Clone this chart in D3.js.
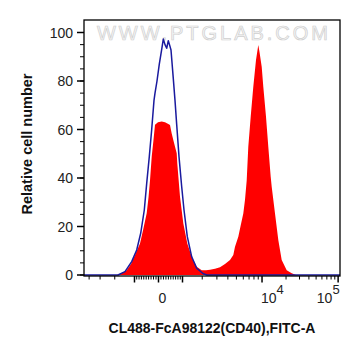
<!DOCTYPE html>
<html><head><meta charset="utf-8">
<script src="https://cdn.jsdelivr.net/npm/d3@7"></script>
<style>body{margin:0;background:#fff}svg{display:block}text{font-family:"Liberation Sans",Arial,sans-serif}</style>
</head><body>
<svg id="c" width="361" height="356"></svg>
<script>
// ---- data (x in display channels 0..256 across the biexponential axis) ----
const controlChannels = [0,34,41,47.7,52.7,56.7,60.3,62.7,65.3,67.7,70,71,73,75.3,77.7,79.3,81,82.7,84.3,85.5,87,89.3,91,92.7,95,97.7,100,103.3,107.7,112.7,119.3,123,256];
const controlCounts   = [0,0,1.4,5.5,10.3,17.2,26.8,37.8,48.8,60,72,75,80,87,93,97.3,95,93.5,96.6,95,92.8,81,72,62,48.8,36.4,26.8,15.8,7.5,2.8,0.5,0,0];
const stainedChannels = [0,32.7,38,42.7,47,51,56,59.3,62.7,64.5,66,67.7,69.3,71,74,77.7,81,84.3,86,87.7,89.3,92.7,93.3,96,99.3,103.3,107.7,112.7,117.7,122,126,131,136,141,146,149.3,151,154.3,157,159.3,161,162.7,163.5,164.3,166.7,169.3,172,174.3,175.5,177.7,179.3,182,184.3,186.7,187.7,191,194.3,197.7,202.7,207.7,212,256];
const stainedCounts   = [0,0,0.8,2,4.5,8.2,13,19,25.5,32,39,48.8,55,62,63,63.3,63,62.3,61.9,58.4,55.7,50.2,46,32.3,21.3,13,7.5,3.4,2,2,2.2,2.6,3.2,4.5,6.2,8.2,11.7,15.8,21,25.4,31,39,46,52.9,65.3,77.6,88.7,94.8,92,85.9,77.6,65.3,52.9,40.5,36.4,25.4,14.4,6.2,2,0.7,0,0];
const yTicks = [0,20,40,60,80,100];
const yMinorTicks = d3.range(0,101,5);
const xMajorTicks = [-1000,0,1000,10000,100000];
const xMinorTicks = [-4000,-3000,-2000,-900,-800,-700,-600,-500,-400,-300,-200,-100,100,200,300,400,500,600,700,800,900,2000,3000,4000,5000,6000,7000,8000,9000,20000,30000,40000,50000,60000,70000,80000,90000];
const xLabels = [{v:0,t:"0"},{v:10000,t:"10",e:"4"},{v:100000,t:"10",e:"5"}];
const xTitle = "CL488-FcA98122(CD40),FITC-A";
const yTitle = "Relative cell number";

// ---- biexponential (logicle-like) transform ----
const P = 3.3, K = 288.5;          // shape parameters
const uDomain = [-1.049, 2.556];   // displayed range, in decades
function g(u){const a=Math.abs(u);return Math.sign(u)*(Math.pow(10,a)-P*P*Math.pow(10,-a/P)+P*P-1);}
function toU(v){let lo=-4,hi=5;const t=v/K;for(let i=0;i<60;i++){const m=(lo+hi)/2;if(g(m)<t)lo=m;else hi=m;}return (lo+hi)/2;}
const uToCh = d3.scaleLinear().domain(uDomain).range([0,256]);

const L=84,R=340,T=20,B=276;
const x = d3.scaleLinear().domain([0,256]).range([L,R]);
const y = d3.scaleLinear().domain([0,100]).range([275,32.5]);
const xv = v => x(uToCh(toU(v)));

const svg = d3.select("#c");

// watermark
svg.append("text").attr("x",97).attr("y",40).attr("font-size",20).attr("textLength",231).attr("lengthAdjust","spacing")
  .attr("fill","#f6f6f6").attr("stroke","#cfcfcf").attr("stroke-width",0.7).text("WWW.PTGLAB.COM");

// stained histogram (red fill)
const stained = stainedChannels.map((c,i)=>[c,stainedCounts[i]]);
svg.append("path").datum(stained)
  .attr("d",d3.area().x(d=>x(d[0])).y0(y(0)).y1(d=>y(d[1])))
  .attr("fill","#ff0000");

// control histogram (blue line)
const control = controlChannels.map((c,i)=>[c,controlCounts[i]]);
svg.append("path").datum(control)
  .attr("d",d3.line().x(d=>x(d[0])).y(d=>y(d[1])))
  .attr("fill","none").attr("stroke","#1a1a9e").attr("stroke-width",1.5).attr("stroke-linejoin","round");

// frame
svg.append("rect").attr("x",L).attr("y",T).attr("width",R-L).attr("height",B-T)
  .attr("fill","none").attr("stroke","#000").attr("stroke-width",1.3);

// y axis ticks
const gy = svg.append("g");
gy.selectAll("line.mn").data(yMinorTicks).join("line").attr("class","mn")
  .attr("x1",L-4).attr("x2",L).attr("y1",d=>y(d)).attr("y2",d=>y(d)).attr("stroke","#000").attr("stroke-width",1);
gy.selectAll("line.mj").data(yTicks).join("line").attr("class","mj")
  .attr("x1",L-7).attr("x2",L).attr("y1",d=>y(d)).attr("y2",d=>y(d)).attr("stroke","#000").attr("stroke-width",1.5);
gy.selectAll("text").data(yTicks).join("text")
  .attr("x",73).attr("y",d=>y(d)).attr("dy","0.36em").attr("text-anchor","end")
  .attr("font-size",14).attr("fill","#222").text(d=>d);

// x axis ticks
const gx = svg.append("g");
gx.selectAll("line.mn").data(xMinorTicks).join("line").attr("class","mn")
  .attr("x1",xv).attr("x2",xv).attr("y1",B).attr("y2",B+3.5).attr("stroke","#000").attr("stroke-width",1);
gx.selectAll("line.mj").data(xMajorTicks).join("line").attr("class","mj")
  .attr("x1",xv).attr("x2",xv).attr("y1",B).attr("y2",B+6.5).attr("stroke","#000").attr("stroke-width",1.5);
xLabels.forEach(l=>{
  const t = gx.append("text").attr("y",302.5).attr("font-size",14).attr("fill","#222");
  if(!l.e){ t.attr("x",xv(l.v)+4).attr("text-anchor","middle").text(l.t); }
  else {
    const anchorEnd = l.v===100000;
    t.attr("x",xv(l.v)+(anchorEnd?1.5:-1)).attr("text-anchor",anchorEnd?"end":"start");
    t.append("tspan").text(l.t);
    t.append("tspan").attr("dy",-9).attr("font-size",13).text(l.e);
  }
});

// titles
svg.append("text").attr("x",(L+R)/2).attr("y",333).attr("text-anchor","middle")
  .attr("font-size",14).attr("font-weight","bold").attr("fill","#111").text(xTitle);
svg.append("text").attr("transform","translate(32,"+((T+B)/2-4)+") rotate(-90)").attr("text-anchor","middle")
  .attr("font-size",14.5).attr("font-weight","bold").attr("fill","#111").text(yTitle);
</script>
</body></html>
